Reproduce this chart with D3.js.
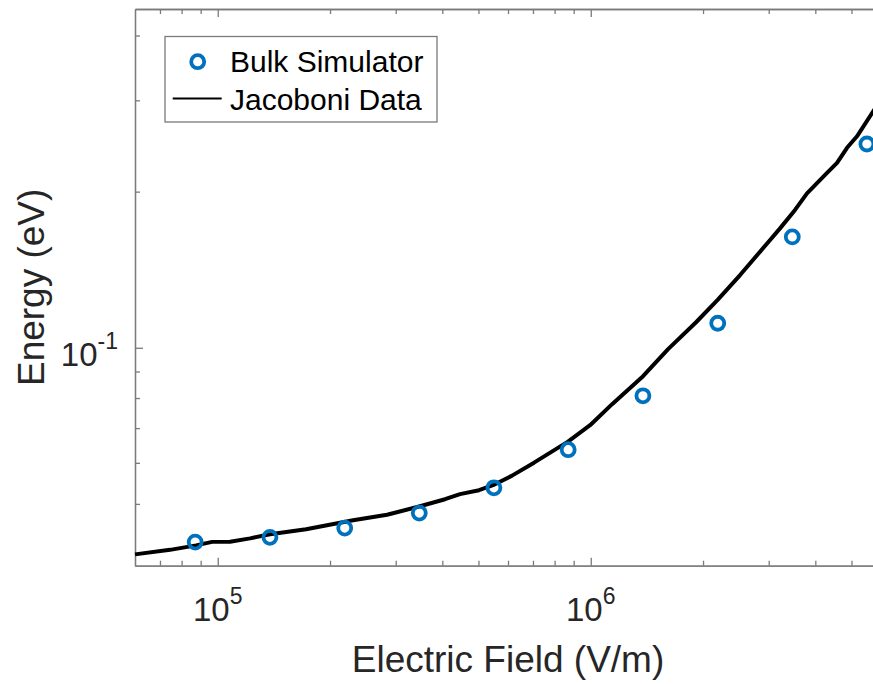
<!DOCTYPE html>
<html>
<head>
<meta charset="utf-8">
<script src="https://cdn.jsdelivr.net/npm/d3@7"></script>
<style>
  html, body { margin: 0; padding: 0; background: #fff; }
  svg { display: block; font-family: "Liberation Sans", Arial, Helvetica, sans-serif; }
</style>
</head>
<body>
<svg id="chart" width="873" height="684"></svg>
<script>
// Jacoboni reference curve: mean electron energy vs applied field
const curveField = [6.0e4, 7.45e4, 8.75e4, 9.66e4, 1.079e5, 1.221e5, 1.381e5, 1.725e5, 1.963e5,
  2.306e5, 2.844e5, 3.485e5, 4.068e5, 4.462e5, 5.018e5, 5.47e5, 6.152e5, 7.047e5, 8.69e5,
  9.96e5, 1.141e6, 1.381e6, 1.612e6, 1.916e6, 2.195e6, 2.514e6, 2.97e6, 3.217e6, 3.529e6,
  3.80e6, 4.30e6, 4.574e6, 4.865e6, 5.174e6, 5.713e6, 6.0e6];
const curveEnergy = [0.03996, 0.04077, 0.04159, 0.04224, 0.04228, 0.04290, 0.04369, 0.04467, 0.04547,
  0.04650, 0.04764, 0.04949, 0.05105, 0.05221, 0.05314, 0.05433, 0.05668, 0.06004, 0.06593,
  0.07090, 0.07785, 0.08816, 0.09942, 0.1120, 0.1240, 0.1381, 0.1589, 0.1699, 0.1844,
  0.1985, 0.2174, 0.2273, 0.2430, 0.2557, 0.2855, 0.3008];

// Bulk Monte Carlo simulator results
const simField = [8.7e4, 1.38e5, 2.19e5, 3.47e5, 5.5e5, 8.7e5, 1.38e6, 2.19e6, 3.47e6, 5.5e6];
const simEnergy = [0.0422, 0.0431, 0.0449, 0.0480, 0.0537, 0.0636, 0.0808, 0.1115, 0.1636, 0.2471];

// Axis limits and ticks
const xLimits = [6e4, 6e6];
const yLimits = [0.038, 0.45];
const xMajorTicks = [1e5, 1e6];
const xMajorExponents = ["5", "6"];
const xMinorTicks = [7e4, 8e4, 9e4, 2e5, 3e5, 4e5, 5e5, 6e5, 7e5, 8e5, 9e5, 2e6, 3e6, 4e6, 5e6];
const yMajorTicks = [0.1];
const yMajorExponents = ["-1"];
const yMinorTicks = [0.04, 0.05, 0.06, 0.07, 0.08, 0.09, 0.2, 0.3, 0.4];

const seriesNames = ["Bulk Simulator", "Jacoboni Data"];
const xLabel = "Electric Field (V/m)";
const yLabel = "Energy (eV)";

const blue = "#0072BD";
const axisColor = "#7a7a7a";
const textColor = "#262626";

const plot = { left: 135, right: 881, top: 9, bottom: 565.7 };

const svg = d3.select("#chart");

const x = d3.scaleLog().domain(xLimits).range([plot.left, plot.right]);
const y = d3.scaleLog().domain(yLimits).range([plot.bottom, plot.top]);

const majorLen = 8, minorLen = 5;

function styleAxis(g) {
  g.select(".domain").attr("stroke", axisColor).attr("stroke-width", 1.3);
  g.selectAll(".tick line").attr("stroke", axisColor).attr("stroke-width", 1.3);
  g.selectAll(".tick text").remove();
}

// Bottom and top axes (ticks pointing into the plot)
svg.append("g").attr("transform", `translate(0,${plot.bottom})`)
  .call(d3.axisBottom(x).tickValues(xMinorTicks).tickSizeInner(-minorLen).tickSizeOuter(0).tickFormat(""))
  .call(styleAxis);
svg.append("g").attr("transform", `translate(0,${plot.bottom})`)
  .call(d3.axisBottom(x).tickValues(xMajorTicks).tickSizeInner(-majorLen).tickSizeOuter(0).tickFormat(""))
  .call(styleAxis);
svg.append("g").attr("transform", `translate(0,${plot.top})`)
  .call(d3.axisTop(x).tickValues(xMinorTicks).tickSizeInner(-minorLen).tickSizeOuter(0).tickFormat(""))
  .call(styleAxis);
svg.append("g").attr("transform", `translate(0,${plot.top})`)
  .call(d3.axisTop(x).tickValues(xMajorTicks).tickSizeInner(-majorLen).tickSizeOuter(0).tickFormat(""))
  .call(styleAxis);

// Left and right axes
svg.append("g").attr("transform", `translate(${plot.left},0)`)
  .call(d3.axisLeft(y).tickValues(yMinorTicks).tickSizeInner(-minorLen).tickSizeOuter(0).tickFormat(""))
  .call(styleAxis);
svg.append("g").attr("transform", `translate(${plot.left},0)`)
  .call(d3.axisLeft(y).tickValues(yMajorTicks).tickSizeInner(-majorLen).tickSizeOuter(0).tickFormat(""))
  .call(styleAxis);
svg.append("g").attr("transform", `translate(${plot.right},0)`)
  .call(d3.axisRight(y).tickValues(yMinorTicks).tickSizeInner(-minorLen).tickSizeOuter(0).tickFormat(""))
  .call(styleAxis);
svg.append("g").attr("transform", `translate(${plot.right},0)`)
  .call(d3.axisRight(y).tickValues(yMajorTicks).tickSizeInner(-majorLen).tickSizeOuter(0).tickFormat(""))
  .call(styleAxis);

// Power-of-ten tick labels
const tickFont = 33, supFont = 23;
xMajorTicks.forEach((v, i) => {
  const t = svg.append("text")
    .attr("x", x(v)).attr("y", 620.5)
    .attr("text-anchor", "middle")
    .attr("fill", textColor)
    .attr("font-size", tickFont);
  t.append("tspan").text("10");
  t.append("tspan").attr("dy", -17).attr("font-size", supFont).text(xMajorExponents[i]);
});
yMajorTicks.forEach((v, i) => {
  const t = svg.append("text")
    .attr("x", plot.left - 17).attr("y", y(v) + 18.5)
    .attr("text-anchor", "end")
    .attr("fill", textColor)
    .attr("font-size", tickFont);
  t.append("tspan").text("10");
  t.append("tspan").attr("dy", -17).attr("font-size", supFont).text(yMajorExponents[i]);
});

// Axis titles
svg.append("text")
  .attr("x", (plot.left + plot.right) / 2).attr("y", 672)
  .attr("text-anchor", "middle")
  .attr("fill", textColor)
  .attr("font-size", 37)
  .text(xLabel);
svg.append("text")
  .attr("transform", `translate(44,${(plot.top + plot.bottom) / 2}) rotate(-90)`)
  .attr("text-anchor", "middle")
  .attr("fill", textColor)
  .attr("font-size", 37)
  .text(yLabel);

// Reference curve
const line = d3.line().x(d => x(d[0])).y(d => y(d[1]));
svg.append("path")
  .datum(d3.zip(curveField, curveEnergy))
  .attr("d", line)
  .attr("fill", "none")
  .attr("stroke", "#000")
  .attr("stroke-width", 4)
  .attr("stroke-linejoin", "round");

// Simulator markers
svg.append("g").selectAll("circle")
  .data(d3.zip(simField, simEnergy))
  .join("circle")
  .attr("cx", d => x(d[0]))
  .attr("cy", d => y(d[1]))
  .attr("r", 6.5)
  .attr("fill", "none")
  .attr("stroke", blue)
  .attr("stroke-width", 3.8);

// Legend
const legend = svg.append("g");
legend.append("rect")
  .attr("x", 165).attr("y", 36.5).attr("width", 272).attr("height", 85.5)
  .attr("fill", "#fff").attr("stroke", axisColor).attr("stroke-width", 1.3);
legend.append("circle")
  .attr("cx", 197.7).attr("cy", 61.7).attr("r", 6.5)
  .attr("fill", "none").attr("stroke", blue).attr("stroke-width", 3.8);
legend.append("line")
  .attr("x1", 172.7).attr("x2", 221.7).attr("y1", 98.5).attr("y2", 98.5)
  .attr("stroke", "#000").attr("stroke-width", 2.2);
legend.selectAll("text.entry")
  .data(seriesNames)
  .join("text")
  .attr("class", "entry")
  .attr("x", 230)
  .attr("y", (d, i) => 72 + i * 38)
  .attr("font-size", 30)
  .attr("fill", "#000")
  .text(d => d);
</script>
</body>
</html>
